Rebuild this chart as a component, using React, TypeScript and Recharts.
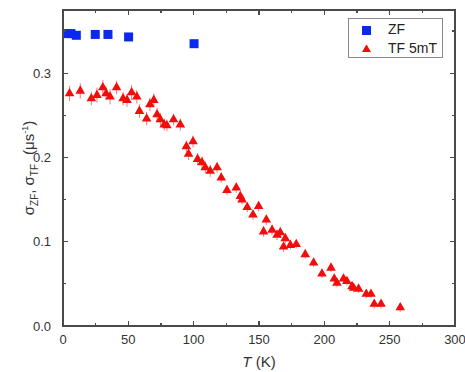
import { ComposedChart, Scatter, XAxis, YAxis, ZAxis, ErrorBar, Legend } from 'recharts'

// ZF (zero field) data
const zfTemp = [3.1, 6.1, 10.2, 24.7, 34.4, 50.2, 100.3]
const zfSigma = [0.347, 0.347, 0.345, 0.346, 0.346, 0.343, 0.335]

// TF 5mT data
const tfTemp = [
  5.0, 13.2, 21.7, 26.0, 30.5, 33.0, 36.0, 41.0, 46.0, 49.0, 52.5, 56.5, 58.5, 64.0, 66.5, 69.5,
  72.0, 74.5, 77.5, 79.5, 84.6, 89.8, 94.4, 96.1, 99.5, 103.0, 106.4, 108.9, 112.7, 117.9, 121.1,
  125.5, 132.6, 135.7, 137.0, 141.0, 145.4, 149.7, 153.5, 155.6, 160.0, 163.8, 166.3, 168.8, 170.1,
  174.0, 178.5, 185.4, 191.8, 198.2, 205.1, 207.6, 209.7, 214.7, 217.3, 221.2, 222.4, 226.2, 232.1,
  235.7, 238.2, 243.4, 258.1,
]
const tfSigma = [
  0.276, 0.279, 0.27, 0.274, 0.283, 0.276, 0.272, 0.283, 0.27, 0.268, 0.277, 0.272, 0.255, 0.246,
  0.263, 0.268, 0.251, 0.245, 0.239, 0.238, 0.245, 0.239, 0.213, 0.204, 0.219, 0.198, 0.194, 0.188,
  0.184, 0.188, 0.176, 0.161, 0.164, 0.154, 0.15, 0.141, 0.132, 0.142, 0.112, 0.126, 0.114, 0.108,
  0.111, 0.094, 0.104, 0.096, 0.097, 0.085, 0.075, 0.062, 0.069, 0.056, 0.051, 0.056, 0.053, 0.047,
  0.045, 0.044, 0.038, 0.038, 0.026, 0.026, 0.022,
]
const tfErr = [
  0.009, 0.009, 0.008, 0.009, 0.009, 0.008, 0.009, 0.008, 0.008, 0.008, 0.009, 0.008, 0.008, 0.008,
  0.008, 0.008, 0.008, 0.008, 0.007, 0.007, 0.007, 0.007, 0.007, 0.007, 0.007, 0.007, 0.007, 0.007,
  0.007, 0.006, 0.006, 0.006, 0.006, 0.006, 0.006, 0.006, 0.006, 0.006, 0.006, 0.006, 0.006, 0.006,
  0.006, 0.006, 0.006, 0.005, 0.005, 0.005, 0.005, 0.005, 0.005, 0.005, 0.005, 0.005, 0.005, 0.005,
  0.005, 0.005, 0.005, 0.005, 0.005, 0.005, 0.005,
]

const xDomain = [0, 300]
const yDomain = [0, 0.375]
const xTicks = [0, 25, 50, 75, 100, 125, 150, 175, 200, 225, 250, 275, 300]
const yTicks = [0, 0.05, 0.1, 0.15, 0.2, 0.25, 0.3, 0.35]

const zfData = zfTemp.map((t, i) => ({ t, s: zfSigma[i] }))
const tfData = tfTemp.map((t, i) => ({ t, s: tfSigma[i], err: tfErr[i] }))

// layout
const W = 465
const H = 372
const M = { top: 10, right: 10, bottom: 0, left: 0 }
const Y_AXIS_W = 63
const X_AXIS_H = 46
const PLOT_W = W - M.left - M.right - Y_AXIS_W
const PLOT_H = H - M.top - M.bottom - X_AXIS_H
const PLOT_X = M.left + Y_AXIS_W
const PLOT_Y = M.top

// positions for the frame tick marks (same linear mapping as the axes)
const tickX = (v: number) => PLOT_X + ((v - xDomain[0]) / (xDomain[1] - xDomain[0])) * PLOT_W
const tickY = (v: number) => PLOT_Y + PLOT_H - ((v - yDomain[0]) / (yDomain[1] - yDomain[0])) * PLOT_H

const font = "Arial, 'Liberation Sans', sans-serif"
const frameColor = '#4a4a4a'
const textColor = '#333333'
const blue = '#0a28ee'
const red = '#f20c0c'

const isMajorX = (v: number) => v % 50 === 0
const isMajorY = (v: number) => Math.round(v * 100) % 10 === 0

const BottomTick = (props: any) => {
  const { x, y, payload } = props
  if (!isMajorX(payload.value)) return <g />
  return (
    <text x={x} y={y + 18} textAnchor="middle" fontSize={13} fill={textColor} fontFamily={font}>
      {payload.value}
    </text>
  )
}

const LeftTick = (props: any) => {
  const { x, y, payload } = props
  if (!isMajorY(payload.value)) return <g />
  return (
    <text x={x - 12} y={y + 4.5} textAnchor="end" fontSize={13} fill={textColor} fontFamily={font}>
      {payload.value.toFixed(1)}
    </text>
  )
}

const legendText = (value: string) => (
  <span style={{ color: '#222', marginLeft: 13, fontFamily: font, fontSize: 14, whiteSpace: 'nowrap' }}>
    {value}
  </span>
)

const legendOrder = (item: any) => (item.value === 'ZF' ? 0 : 1)

const mark = (style: any, key: string) => (
  <div key={key} style={{ position: 'absolute', background: frameColor, ...style }} />
)

function Frame() {
  const lw = 1.5
  const items = [
    mark({ left: PLOT_X - lw / 2, top: PLOT_Y - lw / 2, width: PLOT_W + lw, height: lw }, 'top'),
    mark({ left: PLOT_X - lw / 2, top: PLOT_Y + PLOT_H - lw / 2, width: PLOT_W + lw, height: lw }, 'bottom'),
    mark({ left: PLOT_X - lw / 2, top: PLOT_Y - lw / 2, width: lw, height: PLOT_H + lw }, 'left'),
    mark({ left: PLOT_X + PLOT_W - lw / 2, top: PLOT_Y - lw / 2, width: lw, height: PLOT_H + lw }, 'right'),
  ]
  xTicks.forEach((v) => {
    const len = isMajorX(v) ? 5 : 3
    const x = tickX(v) - 0.6
    items.push(mark({ left: x, top: PLOT_Y + PLOT_H - len, width: 1.2, height: len }, `xb${v}`))
    items.push(mark({ left: x, top: PLOT_Y, width: 1.2, height: len }, `xt${v}`))
  })
  yTicks.forEach((v) => {
    const len = isMajorY(v) ? 5 : 3
    const y = tickY(v) - 0.6
    items.push(mark({ left: PLOT_X, top: y, width: len, height: 1.2 }, `yl${v}`))
    items.push(mark({ left: PLOT_X + PLOT_W - len, top: y, width: len, height: 1.2 }, `yr${v}`))
  })
  return <div style={{ position: 'absolute', left: 0, top: 0, width: W, height: H, pointerEvents: 'none' }}>{items}</div>
}

export default function App() {
  return (
    <div style={{ position: 'absolute', left: 0, top: 0, width: W, height: H }}>
      <ComposedChart width={W} height={H} margin={M}>
        <XAxis
          dataKey="t"
          type="number"
          domain={xDomain}
          ticks={xTicks}
          interval={0}
          height={X_AXIS_H}
          tickSize={0}
          tickMargin={0}
          tickLine={false}
          axisLine={false}
          tick={<BottomTick />}
        />
        <YAxis
          dataKey="s"
          type="number"
          domain={yDomain}
          ticks={yTicks}
          interval={0}
          width={Y_AXIS_W}
          tickSize={0}
          tickMargin={0}
          tickLine={false}
          axisLine={false}
          tick={<LeftTick />}
        />
        <ZAxis zAxisId="sq" range={[81, 81]} />
        <ZAxis zAxisId="tri" range={[40, 40]} />
        <Legend
          layout="vertical"
          align="center"
          verticalAlign="middle"
          iconSize={9}
          formatter={legendText}
          itemSorter={legendOrder}
          wrapperStyle={{
            left: 348,
            top: 18,
            width: 95,
            height: 40,
            boxSizing: 'border-box',
            border: '1px solid #8a8a8a',
            background: '#fff',
            padding: '1px 0 1px 13px',
            lineHeight: '18px',
            fontSize: 14,
            whiteSpace: 'nowrap',
          }}
        />
        <Scatter
          name="ZF"
          data={zfData}
          dataKey="s"
          zAxisId="sq"
          fill={blue}
          shape="square"
          legendType="square"
          isAnimationActive={false}
        />
        <Scatter
          name="TF 5mT"
          data={tfData}
          dataKey="s"
          zAxisId="tri"
          fill={red}
          shape="triangle"
          legendType="triangle"
          isAnimationActive={false}
        >
          <ErrorBar dataKey="err" direction="y" width={0} stroke="#f47a7a" strokeWidth={1} />
        </Scatter>
      </ComposedChart>
      <Frame />
      <div
        style={{
          position: 'absolute',
          left: 25 - 100,
          top: PLOT_Y + PLOT_H / 2 - 10,
          width: 200,
          height: 20,
          lineHeight: '20px',
          textAlign: 'center',
          transform: 'rotate(-90deg)',
          fontFamily: font,
          fontSize: 15,
          color: textColor,
          whiteSpace: 'nowrap',
        }}
      >
        σ<sub style={{ fontSize: 10 }}>ZF</sub>, σ<sub style={{ fontSize: 10 }}>TF</sub>
        <span style={{ marginLeft: 9 }}>(μs</span>
        <sup style={{ fontSize: 9 }}>-1</sup>)
      </div>
      <div
        style={{
          position: 'absolute',
          left: PLOT_X + PLOT_W / 2 - 40,
          top: 353,
          width: 80,
          lineHeight: '18px',
          textAlign: 'center',
          fontFamily: font,
          fontSize: 15,
          color: textColor,
        }}
      >
        <i>T</i> (K)
      </div>
    </div>
  )
}
